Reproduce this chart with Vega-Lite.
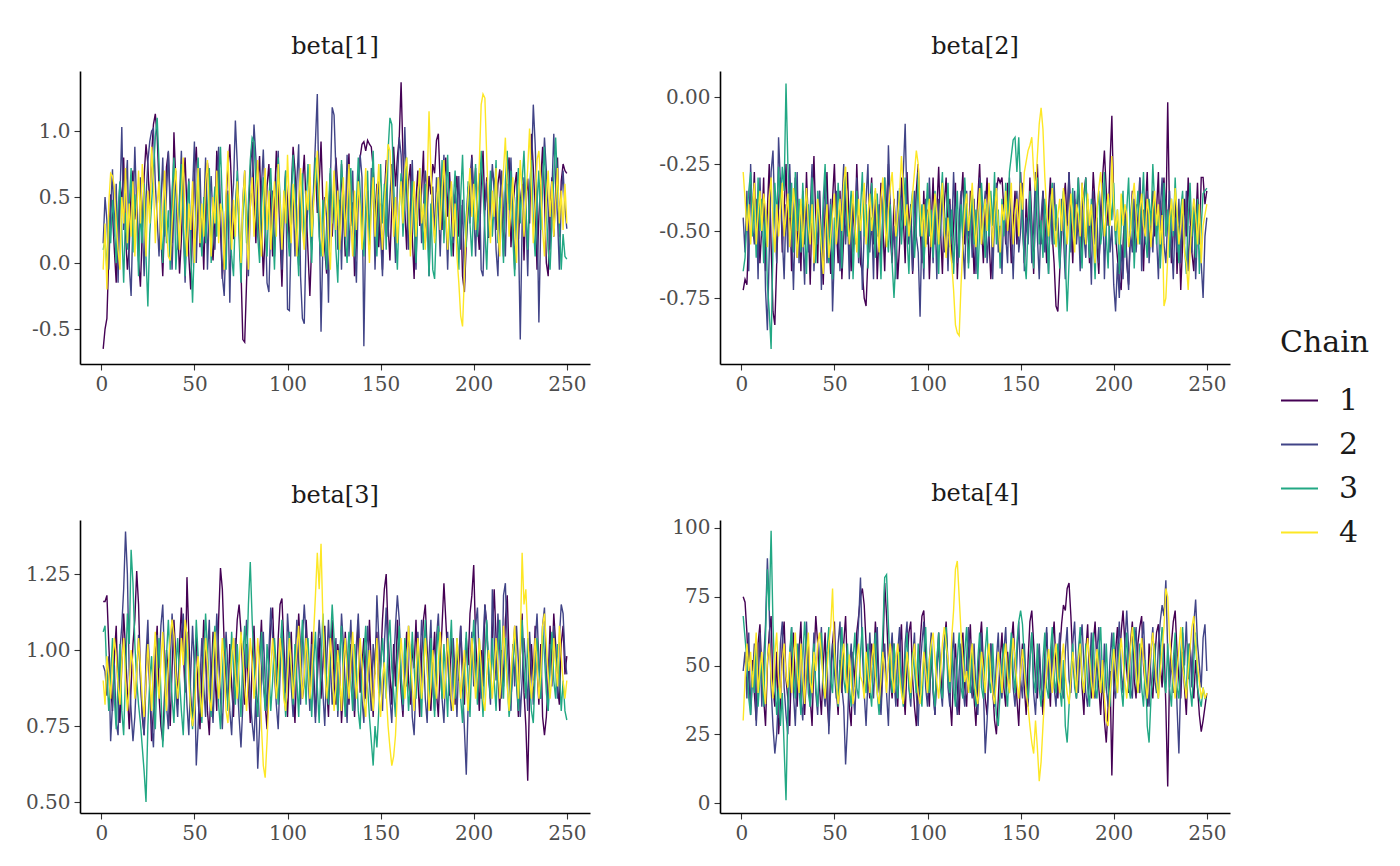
{
  "$schema": "https://vega.github.io/schema/vega-lite/v6.json",
  "description": "MCMC trace plots for beta[1] to beta[4], four chains",
  "background": "white",
  "padding": {"left": 20, "top": 35, "right": 0, "bottom": 0},
  "data": {
    "values": [
      {"p": "beta[1]", "c": "1", "v": [-0.65,-0.50,-0.42,0.05,0.52,0.38,0.10,-0.15,0.28,0.61,0.45,0.80,0.22,-0.05,0.12,0.55,0.70,0.33,0.48,0.02,-0.18,0.25,0.66,0.90,0.75,0.41,0.82,1.05,1.13,0.96,0.58,0.20,-0.10,0.35,0.73,0.84,0.47,0.15,0.99,0.62,0.30,-0.08,0.18,0.57,0.80,0.40,0.05,-0.20,0.26,0.68,0.88,0.52,0.12,0.35,-0.05,0.44,0.76,0.60,0.20,0.02,0.31,0.85,0.66,0.25,-0.12,0.10,0.48,0.72,0.90,0.55,0.18,0.40,0.64,0.28,-0.05,-0.58,-0.60,-0.15,0.36,0.70,0.92,0.50,0.15,0.62,0.81,0.30,-0.10,0.22,0.58,0.75,0.40,0.05,0.46,0.85,0.60,0.20,-0.18,0.30,0.66,0.48,0.12,0.55,0.88,0.70,0.35,-0.02,0.26,0.60,0.82,0.42,0.08,-0.25,0.15,0.52,0.74,0.38,0.60,0.92,0.45,0.10,-0.08,0.30,0.68,0.20,0.50,0.80,0.56,0.22,0.75,0.40,0.05,0.58,0.83,0.28,0.46,-0.10,0.15,0.62,0.80,0.90,0.92,0.85,0.93,0.90,0.88,0.72,0.35,0.60,0.12,0.45,-0.05,0.50,0.78,0.30,0.02,0.42,0.88,0.58,0.80,0.95,1.37,0.82,0.40,0.10,0.62,0.75,0.20,-0.12,0.48,0.70,0.28,0.55,0.85,0.15,0.40,0.66,0.52,0.75,0.68,0.93,0.98,0.60,0.25,0.62,0.80,0.35,0.69,0.40,0.05,0.52,0.66,0.20,0.44,-0.10,-0.22,0.15,0.40,0.61,0.82,0.50,0.72,0.30,0.10,0.58,0.85,0.40,0.65,0.19,0.55,0.70,0.62,0.25,0.60,0.71,0.44,0.05,0.53,0.67,0.80,0.12,0.40,0.58,0.69,0.18,0.46,0.60,0.02,0.51,0.64,0.30,0.98,0.72,0.41,-0.05,0.35,0.62,0.88,0.50,0.00,-0.10,0.40,0.65,0.20,0.55,0.80,0.20,0.62,0.75,0.70,0.68]},
      {"p": "beta[1]", "c": "2", "v": [0.15,0.50,0.32,-0.05,0.40,0.71,0.20,0.60,-0.15,0.48,1.03,0.25,0.55,0.78,-0.02,-0.25,0.35,0.88,0.42,0.05,0.65,0.30,-0.10,0.49,0.77,0.92,1.00,1.02,0.60,0.33,0.05,0.45,0.80,0.20,0.52,0.85,0.37,-0.05,0.43,0.70,0.10,0.50,0.85,0.30,-0.15,0.41,0.64,0.10,0.55,0.92,0.00,0.47,0.72,0.15,0.36,0.80,-0.05,0.40,0.66,0.30,0.10,0.52,0.88,0.43,-0.10,-0.25,0.22,0.55,-0.30,0.40,0.60,1.08,0.75,0.35,-0.05,0.48,0.70,0.28,-0.10,0.42,0.63,1.05,0.80,0.45,0.10,0.58,0.86,0.40,-0.15,-0.22,0.30,0.55,0.05,0.40,0.85,0.25,-0.05,0.44,0.70,-0.35,-0.36,0.28,0.50,0.05,0.62,0.90,-0.10,-0.42,-0.46,0.20,0.45,0.65,0.10,0.58,0.92,1.28,0.40,-0.52,0.15,0.50,0.35,-0.30,0.60,1.18,1.12,0.70,0.10,0.48,-0.05,0.55,0.30,0.82,0.05,0.42,0.70,0.15,-0.15,0.50,0.82,0.65,-0.63,0.30,0.55,0.10,0.72,0.58,-0.05,0.45,0.62,0.20,-0.10,0.40,0.68,0.20,0.50,0.75,0.38,0.00,0.60,0.95,0.82,0.45,1.03,0.55,0.10,0.42,0.78,0.30,-0.05,0.48,0.62,0.15,0.40,0.70,0.55,-0.10,0.36,0.58,0.20,0.65,0.45,0.05,0.50,0.82,0.38,-0.05,0.44,0.60,0.15,0.52,0.40,0.66,0.10,0.48,-0.15,0.35,0.58,0.30,0.80,0.42,0.05,0.50,0.68,-0.05,-0.10,0.40,0.62,0.20,0.45,0.75,0.55,0.10,-0.10,0.48,0.70,0.38,0.05,0.60,0.45,0.80,0.35,-0.05,0.50,0.25,-0.58,0.30,0.65,0.40,-0.10,0.55,0.70,1.20,0.90,0.45,-0.45,0.30,0.62,0.95,0.70,0.40,0.10,0.55,0.98,0.60,0.35,-0.05,0.48,0.70,0.42,0.26]},
      {"p": "beta[1]", "c": "3", "v": [0.10,0.18,-0.05,0.35,0.15,0.48,0.30,0.00,0.40,0.62,0.25,-0.15,0.38,0.10,0.45,0.72,0.08,0.52,0.33,-0.10,0.40,0.15,0.60,0.05,-0.33,0.22,0.45,0.70,0.95,1.10,0.75,0.30,0.00,0.48,0.15,0.40,-0.05,0.55,0.80,-0.05,0.20,0.44,0.75,0.30,-0.10,0.38,0.62,0.10,-0.30,0.15,0.42,0.80,0.30,0.05,0.50,0.15,0.40,0.72,0.00,0.35,0.58,0.20,0.62,0.88,0.45,0.10,-0.05,0.52,0.30,0.05,-0.10,0.40,0.70,0.18,-0.15,0.35,0.60,0.15,0.45,0.78,0.95,0.92,0.60,0.20,0.00,0.42,0.65,0.25,0.05,0.48,0.72,0.30,-0.05,0.45,0.80,0.50,0.15,0.40,0.70,0.25,0.05,0.45,0.82,0.55,0.20,-0.10,0.40,0.68,0.15,0.45,0.75,0.30,0.00,0.50,0.80,0.60,0.20,0.05,0.48,0.22,-0.05,0.42,0.72,0.30,0.55,0.10,-0.15,0.40,0.78,0.45,0.20,0.00,0.48,0.72,0.30,0.05,0.45,0.80,0.55,0.25,0.05,0.42,0.70,0.15,0.50,0.85,0.35,0.05,0.45,0.75,0.30,0.60,0.10,0.85,1.10,1.05,0.60,0.25,-0.05,0.42,0.68,0.20,0.48,0.80,0.35,0.10,0.62,0.30,0.00,0.45,0.72,0.35,0.10,0.60,0.30,-0.10,0.45,-0.05,-0.12,0.30,0.65,0.35,0.78,0.15,0.48,0.82,0.30,0.05,0.45,0.70,0.30,-0.05,0.50,0.82,0.35,0.12,0.62,0.30,0.05,0.45,0.75,0.20,0.48,0.85,0.55,0.25,-0.05,0.42,0.70,0.20,0.45,0.78,0.15,0.50,0.35,0.00,0.62,0.85,0.40,0.70,0.20,-0.10,0.48,0.72,0.30,0.62,0.85,0.42,0.10,0.55,0.78,0.30,0.05,0.45,0.70,0.25,0.60,0.88,0.40,0.10,-0.05,0.30,0.65,0.95,0.60,0.30,-0.05,0.22,0.05,0.03]},
      {"p": "beta[1]", "c": "4", "v": [-0.05,0.30,-0.20,0.45,0.68,0.66,0.58,0.30,0.10,-0.05,0.50,0.30,0.72,0.15,0.45,0.20,0.62,0.05,0.40,0.70,0.30,0.75,0.48,0.05,0.55,0.30,0.88,0.60,0.15,0.45,0.62,0.10,0.40,0.70,0.25,0.05,0.02,0.30,0.55,0.72,0.40,0.10,0.52,0.80,0.30,0.05,0.45,0.25,0.62,0.00,0.38,0.72,0.15,0.45,0.20,0.60,0.78,0.35,0.05,0.50,0.30,0.70,0.15,0.45,0.38,-0.05,0.52,0.85,0.40,0.10,0.48,0.20,0.62,0.40,0.00,0.45,0.70,0.25,-0.05,0.42,0.65,0.20,0.48,0.78,0.30,0.05,0.42,0.72,0.25,0.55,0.10,0.40,0.62,0.20,0.75,0.45,0.10,0.55,0.30,0.82,0.45,0.15,0.60,0.40,0.05,0.48,0.72,0.25,0.10,0.55,0.40,0.75,0.20,0.45,0.65,0.85,0.52,0.25,0.05,0.40,0.62,0.20,-0.05,0.42,0.70,0.25,0.55,0.10,0.40,0.65,0.20,0.45,0.75,0.30,0.05,0.55,0.25,0.62,0.42,0.10,0.45,0.72,0.30,0.00,0.40,0.65,0.20,0.50,0.75,0.35,0.10,0.45,0.65,0.90,0.85,0.55,0.20,0.50,0.15,0.42,0.62,0.30,0.70,0.80,0.45,0.05,0.40,0.62,0.20,0.50,0.72,0.30,0.45,0.10,0.60,1.15,0.70,0.35,0.15,0.45,0.65,0.25,0.55,0.78,0.40,0.10,0.40,0.62,0.20,0.45,0.05,-0.15,-0.40,-0.48,-0.10,0.30,0.50,0.72,0.35,0.60,0.25,0.50,0.75,1.20,1.28,1.25,0.80,0.40,0.15,0.55,0.35,0.72,0.25,0.05,0.48,0.70,0.95,0.55,0.20,0.42,0.65,0.25,0.00,0.45,0.78,0.52,0.20,0.48,0.72,1.02,0.55,0.15,0.42,0.78,0.85,0.60,0.25,0.05,0.48,0.70,0.35,0.62,0.20,0.45,0.72,0.30,0.55,0.25,0.60,0.30]},
      {"p": "beta[2]", "c": "1", "v": [-0.72,-0.68,-0.70,-0.50,-0.32,-0.45,-0.28,-0.55,-0.40,-0.62,-0.48,-0.30,-0.65,-0.42,-0.25,-0.55,-0.80,-0.85,-0.62,-0.40,-0.30,-0.58,-0.42,-0.25,-0.52,-0.38,-0.65,-0.48,-0.30,-0.60,-0.40,-0.65,-0.35,-0.55,-0.28,-0.48,-0.70,-0.40,-0.22,-0.46,-0.62,-0.35,-0.55,-0.70,-0.42,-0.28,-0.52,-0.66,-0.38,-0.25,-0.48,-0.62,-0.35,-0.68,-0.52,-0.40,-0.28,-0.50,-0.65,-0.38,-0.55,-0.25,-0.45,-0.62,-0.65,-0.75,-0.78,-0.60,-0.42,-0.30,-0.55,-0.40,-0.68,-0.50,-0.32,-0.48,-0.65,-0.40,-0.25,-0.52,-0.62,-0.38,-0.50,-0.68,-0.55,-0.30,-0.45,-0.62,-0.28,-0.50,-0.40,-0.66,-0.52,-0.35,-0.25,-0.48,-0.62,-0.35,-0.55,-0.42,-0.68,-0.48,-0.30,-0.55,-0.42,-0.26,-0.50,-0.66,-0.40,-0.30,-0.52,-0.38,-0.62,-0.48,-0.32,-0.68,-0.50,-0.40,-0.28,-0.55,-0.45,-0.62,-0.35,-0.48,-0.66,-0.52,-0.38,-0.25,-0.48,-0.62,-0.42,-0.30,-0.52,-0.68,-0.55,-0.40,-0.35,-0.30,-0.32,-0.30,-0.42,-0.55,-0.32,-0.46,-0.62,-0.48,-0.35,-0.55,-0.42,-0.28,-0.48,-0.62,-0.38,-0.52,-0.30,-0.46,-0.66,-0.40,-0.25,-0.48,-0.55,-0.35,-0.46,-0.62,-0.42,-0.30,-0.52,-0.62,-0.78,-0.80,-0.65,-0.50,-0.40,-0.32,-0.48,-0.28,-0.44,-0.62,-0.38,-0.52,-0.30,-0.46,-0.58,-0.36,-0.30,-0.45,-0.62,-0.48,-0.28,-0.40,-0.55,-0.66,-0.42,-0.30,-0.20,-0.35,-0.48,-0.25,-0.07,-0.40,-0.52,-0.60,-0.68,-0.72,-0.55,-0.42,-0.62,-0.70,-0.48,-0.35,-0.58,-0.40,-0.52,-0.30,-0.46,-0.65,-0.42,-0.28,-0.55,-0.48,-0.35,-0.52,-0.42,-0.28,-0.60,-0.40,-0.30,-0.48,-0.02,-0.45,-0.62,-0.50,-0.35,-0.66,-0.48,-0.72,-0.55,-0.38,-0.52,-0.30,-0.45,-0.58,-0.65,-0.48,-0.32,-0.55,-0.30,-0.30,-0.40,-0.35]},
      {"p": "beta[2]", "c": "2", "v": [-0.45,-0.58,-0.35,-0.65,-0.25,-0.48,-0.55,-0.38,-0.68,-0.30,-0.52,-0.38,-0.72,-0.87,-0.58,-0.28,-0.20,-0.45,-0.62,-0.15,-0.32,-0.52,-0.68,-0.40,-0.58,-0.25,-0.48,-0.72,-0.45,-0.28,-0.62,-0.40,-0.52,-0.70,-0.35,-0.58,-0.42,-0.25,-0.65,-0.48,-0.55,-0.35,-0.72,-0.45,-0.30,-0.62,-0.50,-0.38,-0.80,-0.58,-0.35,-0.48,-0.65,-0.40,-0.25,-0.55,-0.42,-0.68,-0.38,-0.58,-0.48,-0.30,-0.62,-0.45,-0.72,-0.50,-0.38,-0.25,-0.58,-0.45,-0.68,-0.35,-0.52,-0.40,-0.62,-0.45,-0.30,-0.55,-0.18,-0.40,-0.58,-0.48,-0.68,-0.35,-0.52,-0.45,-0.28,-0.10,-0.42,-0.55,-0.45,-0.65,-0.35,-0.52,-0.58,-0.82,-0.48,-0.68,-0.38,-0.55,-0.30,-0.48,-0.62,-0.42,-0.68,-0.38,-0.52,-0.32,-0.58,-0.45,-0.65,-0.40,-0.52,-0.28,-0.48,-0.62,-0.45,-0.35,-0.55,-0.68,-0.35,-0.52,-0.42,-0.60,-0.38,-0.66,-0.48,-0.30,-0.55,-0.45,-0.35,-0.62,-0.50,-0.38,-0.68,-0.45,-0.32,-0.58,-0.48,-0.66,-0.40,-0.52,-0.62,-0.30,-0.48,-0.68,-0.45,-0.35,-0.58,-0.50,-0.32,-0.65,-0.45,-0.55,-0.38,-0.62,-0.48,-0.28,-0.52,-0.68,-0.45,-0.35,-0.58,-0.48,-0.66,-0.38,-0.55,-0.32,-0.50,-0.45,-0.62,-0.38,-0.52,-0.68,-0.45,-0.28,-0.58,-0.48,-0.35,-0.55,-0.45,-0.65,-0.32,-0.52,-0.60,-0.38,-0.48,-0.70,-0.35,-0.55,-0.45,-0.62,-0.50,-0.32,-0.68,-0.45,-0.38,-0.58,-0.48,-0.70,-0.80,-0.62,-0.75,-0.55,-0.68,-0.45,-0.60,-0.72,-0.50,-0.58,-0.38,-0.58,-0.48,-0.30,-0.65,-0.42,-0.55,-0.35,-0.62,-0.48,-0.58,-0.38,-0.52,-0.68,-0.42,-0.30,-0.55,-0.62,-0.45,-0.35,-0.52,-0.68,-0.45,-0.58,-0.38,-0.62,-0.42,-0.55,-0.35,-0.65,-0.48,-0.58,-0.38,-0.68,-0.50,-0.42,-0.62,-0.75,-0.52,-0.45]},
      {"p": "beta[2]", "c": "3", "v": [-0.65,-0.60,-0.45,-0.35,-0.28,-0.52,-0.38,-0.60,-0.30,-0.50,-0.38,-0.62,-0.42,-0.70,-0.80,-0.94,-0.55,-0.32,-0.45,-0.26,-0.42,-0.26,-0.35,0.05,-0.25,-0.45,-0.32,-0.58,-0.28,-0.50,-0.38,-0.58,-0.32,-0.48,-0.66,-0.40,-0.52,-0.30,-0.50,-0.62,-0.35,-0.46,-0.58,-0.38,-0.25,-0.50,-0.62,-0.40,-0.68,-0.45,-0.52,-0.32,-0.46,-0.64,-0.40,-0.28,-0.52,-0.45,-0.35,-0.68,-0.48,-0.35,-0.60,-0.42,-0.28,-0.52,-0.40,-0.64,-0.50,-0.32,-0.45,-0.60,-0.36,-0.52,-0.68,-0.42,-0.30,-0.50,-0.58,-0.40,-0.62,-0.75,-0.60,-0.45,-0.34,-0.55,-0.42,-0.30,-0.52,-0.66,-0.42,-0.35,-0.60,-0.48,-0.28,-0.52,-0.40,-0.64,-0.46,-0.32,-0.52,-0.42,-0.60,-0.35,-0.48,-0.66,-0.40,-0.28,-0.52,-0.45,-0.32,-0.56,-0.42,-0.66,-0.48,-0.35,-0.60,-0.40,-0.52,-0.30,-0.45,-0.64,-0.48,-0.35,-0.55,-0.42,-0.68,-0.50,-0.32,-0.46,-0.60,-0.40,-0.52,-0.35,-0.48,-0.28,-0.55,-0.42,-0.64,-0.38,-0.52,-0.32,-0.46,-0.28,-0.22,-0.16,-0.15,-0.28,-0.15,-0.35,-0.48,-0.60,-0.68,-0.48,-0.35,-0.52,-0.64,-0.42,-0.30,-0.55,-0.46,-0.60,-0.38,-0.48,-0.66,-0.42,-0.32,-0.55,-0.40,-0.52,-0.64,-0.42,-0.35,-0.60,-0.80,-0.62,-0.45,-0.34,-0.55,-0.42,-0.30,-0.52,-0.64,-0.40,-0.30,-0.48,-0.60,-0.38,-0.52,-0.68,-0.42,-0.35,-0.55,-0.48,-0.28,-0.52,-0.64,-0.38,-0.46,-0.32,-0.55,-0.42,-0.66,-0.48,-0.35,-0.60,-0.42,-0.30,-0.52,-0.38,-0.64,-0.46,-0.35,-0.55,-0.42,-0.28,-0.52,-0.60,-0.38,-0.48,-0.25,-0.40,-0.55,-0.42,-0.64,-0.48,-0.32,-0.52,-0.42,-0.60,-0.38,-0.52,-0.30,-0.48,-0.62,-0.42,-0.35,-0.55,-0.66,-0.46,-0.32,-0.52,-0.42,-0.60,-0.38,-0.66,-0.48,-0.36,-0.35,-0.34]},
      {"p": "beta[2]", "c": "4", "v": [-0.28,-0.38,-0.50,-0.40,-0.55,-0.42,-0.32,-0.55,-0.44,-0.35,-0.50,-0.36,-0.42,-0.56,-0.38,-0.30,-0.48,-0.58,-0.40,-0.52,-0.42,-0.32,-0.52,-0.44,-0.36,-0.56,-0.45,-0.34,-0.42,-0.60,-0.50,-0.38,-0.56,-0.44,-0.34,-0.48,-0.55,-0.40,-0.62,-0.48,-0.38,-0.46,-0.56,-0.66,-0.50,-0.40,-0.60,-0.52,-0.44,-0.36,-0.55,-0.46,-0.38,-0.50,-0.32,-0.26,-0.42,-0.55,-0.45,-0.35,-0.48,-0.58,-0.38,-0.50,-0.42,-0.32,-0.55,-0.44,-0.36,-0.50,-0.42,-0.34,-0.48,-0.58,-0.38,-0.30,-0.46,-0.56,-0.42,-0.34,-0.28,-0.40,-0.52,-0.44,-0.36,-0.22,-0.34,-0.48,-0.40,-0.52,-0.44,-0.36,-0.28,-0.20,-0.25,-0.42,-0.52,-0.40,-0.56,-0.45,-0.38,-0.56,-0.46,-0.36,-0.44,-0.55,-0.40,-0.32,-0.50,-0.60,-0.45,-0.55,-0.62,-0.72,-0.85,-0.88,-0.89,-0.70,-0.55,-0.42,-0.36,-0.50,-0.42,-0.32,-0.46,-0.56,-0.44,-0.34,-0.55,-0.45,-0.38,-0.50,-0.32,-0.42,-0.56,-0.44,-0.34,-0.48,-0.58,-0.40,-0.46,-0.35,-0.50,-0.42,-0.32,-0.55,-0.44,-0.38,-0.52,-0.32,-0.42,-0.28,-0.24,-0.20,-0.18,-0.15,-0.28,-0.35,-0.22,-0.10,-0.04,-0.12,-0.30,-0.42,-0.52,-0.42,-0.34,-0.48,-0.56,-0.44,-0.38,-0.50,-0.34,-0.42,-0.55,-0.45,-0.36,-0.48,-0.58,-0.40,-0.44,-0.52,-0.32,-0.42,-0.55,-0.36,-0.48,-0.40,-0.52,-0.62,-0.42,-0.34,-0.28,-0.40,-0.52,-0.44,-0.36,-0.48,-0.22,-0.40,-0.50,-0.42,-0.55,-0.36,-0.48,-0.40,-0.44,-0.56,-0.50,-0.38,-0.32,-0.44,-0.55,-0.42,-0.36,-0.48,-0.52,-0.38,-0.44,-0.56,-0.42,-0.35,-0.48,-0.40,-0.55,-0.44,-0.78,-0.75,-0.60,-0.45,-0.38,-0.50,-0.34,-0.42,-0.55,-0.48,-0.38,-0.58,-0.62,-0.72,-0.58,-0.46,-0.38,-0.44,-0.55,-0.40,-0.62,-0.48,-0.44,-0.40]},
      {"p": "beta[3]", "c": "1", "v": [1.16,1.16,1.18,1.02,0.88,0.80,0.98,1.08,0.85,0.76,0.95,1.12,1.00,0.86,0.74,0.88,1.02,1.10,1.26,1.15,0.92,0.78,0.72,0.90,1.05,0.88,0.70,0.80,0.98,1.08,0.85,0.75,0.70,0.86,1.00,0.92,0.75,0.94,1.10,0.98,0.82,1.02,1.14,1.00,0.86,1.24,1.05,0.85,0.75,0.95,1.05,0.84,0.74,0.92,1.10,0.98,0.80,0.72,0.90,1.06,0.92,0.80,1.10,1.27,1.20,1.02,0.90,0.82,1.02,0.88,0.78,0.98,1.10,1.15,1.06,0.92,0.82,1.02,0.88,0.76,0.95,1.08,0.88,0.78,0.98,1.10,0.90,0.82,0.74,0.95,1.08,1.14,0.96,0.85,1.04,1.15,1.17,1.02,0.88,0.78,0.95,1.06,0.86,0.76,0.96,1.12,1.00,0.84,0.90,1.10,0.98,0.84,1.06,0.94,0.78,0.90,1.04,0.84,0.95,1.08,0.88,0.78,0.98,1.10,0.90,0.82,1.02,0.94,0.76,0.88,1.06,0.94,0.82,1.02,0.90,0.78,0.98,1.10,0.86,0.95,1.04,0.84,0.90,1.10,0.94,0.78,0.98,1.06,0.86,0.95,1.10,1.20,1.25,1.06,0.92,0.82,1.02,0.88,1.10,0.98,0.86,0.78,0.95,1.06,0.90,0.82,1.02,0.94,1.10,0.90,0.78,0.98,1.10,1.15,1.00,0.88,0.80,0.95,1.06,0.86,0.78,0.95,1.08,1.22,1.10,0.98,0.85,1.04,0.94,0.82,1.02,0.90,1.08,0.94,0.82,1.04,0.95,1.12,1.18,1.28,1.04,0.92,0.80,1.00,0.88,1.15,1.08,0.92,0.84,1.04,1.20,1.04,0.92,0.80,1.00,0.88,1.10,1.18,0.98,0.84,0.94,1.08,0.90,0.78,0.98,1.12,0.86,0.75,0.57,0.85,1.02,0.90,1.08,0.94,0.82,1.02,0.78,0.72,0.78,0.90,1.08,0.94,1.12,1.02,0.88,0.82,1.02,1.08,0.92,0.98]},
      {"p": "beta[3]", "c": "2", "v": [0.95,0.93,0.85,0.98,0.70,0.82,0.95,0.76,0.72,1.00,1.08,1.20,1.39,1.25,0.92,0.80,0.70,0.78,0.92,1.05,0.90,0.80,0.72,0.98,1.10,0.88,0.76,0.68,0.88,1.05,0.94,1.08,1.15,0.96,0.82,0.74,0.95,1.12,1.00,0.86,0.78,0.95,1.05,1.12,0.96,0.82,0.72,0.92,1.08,0.94,0.62,0.75,0.90,1.04,0.88,0.78,0.98,1.10,0.86,0.76,0.95,1.12,1.00,0.84,0.74,0.92,1.06,0.94,0.80,0.72,0.90,1.04,0.90,0.78,0.68,0.82,0.98,1.10,0.96,0.84,0.76,0.70,0.85,0.61,0.75,0.92,1.06,0.90,0.80,1.00,1.14,1.04,0.92,0.82,0.74,0.92,1.08,0.96,0.86,1.12,1.02,0.88,0.78,0.95,1.10,0.96,0.82,1.04,1.15,1.04,0.92,0.80,1.02,0.88,0.76,0.98,1.10,1.00,0.86,0.75,0.95,1.10,0.96,0.82,0.90,1.04,0.78,0.94,1.12,1.02,0.88,0.76,0.98,1.10,0.92,0.80,1.02,1.12,0.94,0.84,0.76,0.98,1.08,0.90,0.80,1.02,0.92,1.18,1.04,0.90,0.80,1.02,1.14,0.96,0.84,0.76,0.94,1.08,1.18,1.10,0.92,0.80,1.02,0.88,1.08,0.96,0.78,0.72,0.90,1.06,0.92,1.10,1.00,0.84,0.76,0.98,1.10,0.88,0.80,1.04,1.12,0.96,0.84,0.76,0.94,1.06,0.88,0.80,1.04,0.92,0.78,0.98,1.08,0.88,0.74,0.59,0.82,0.96,1.06,0.88,1.08,1.14,0.96,0.84,1.02,1.15,1.08,0.92,0.82,1.20,1.04,0.90,1.12,1.00,0.84,1.18,1.22,1.02,0.90,0.80,1.02,0.88,1.08,0.96,0.78,0.90,1.04,0.94,0.80,1.06,0.94,0.82,1.02,1.12,0.96,0.84,1.08,1.14,0.92,0.80,1.02,0.88,1.08,0.96,0.84,1.04,1.15,1.12,0.98,0.92]},
      {"p": "beta[3]", "c": "3", "v": [1.06,1.08,0.92,0.80,0.90,1.04,0.84,0.74,0.90,1.02,0.80,0.72,0.92,1.12,1.02,1.33,1.22,1.02,0.90,0.82,0.76,0.68,0.60,0.50,0.75,0.90,0.98,0.82,0.74,0.94,1.04,0.86,0.68,0.80,0.98,1.10,0.96,0.84,0.76,0.94,1.04,0.90,0.80,0.72,0.90,1.06,0.94,0.82,0.74,0.92,1.10,0.98,0.86,0.76,0.96,1.12,1.00,0.88,0.78,1.00,1.08,0.94,0.82,0.74,0.92,1.04,0.96,0.80,0.88,1.06,0.94,0.82,1.02,0.90,0.78,0.98,1.08,0.94,1.15,1.29,1.10,0.96,0.86,0.78,0.95,1.06,0.90,0.80,1.02,0.94,0.80,0.90,1.04,0.94,0.82,0.98,1.10,0.90,0.78,0.95,1.06,0.94,0.82,1.02,0.90,0.78,0.98,1.10,0.94,0.82,1.04,0.90,0.78,0.95,1.06,0.88,0.76,0.95,1.12,1.00,0.90,0.82,1.02,1.15,1.04,0.92,0.80,0.98,1.08,0.90,0.78,0.95,1.06,0.90,0.80,1.02,0.94,0.80,0.74,0.92,0.98,1.08,0.88,0.78,0.70,0.62,0.75,0.68,0.80,0.94,1.04,0.94,0.84,1.02,1.10,0.94,0.86,0.78,0.98,1.08,0.90,0.82,1.04,0.94,0.80,0.90,1.06,0.94,0.84,1.02,0.90,0.78,0.98,1.10,0.94,0.82,1.04,0.90,0.78,0.98,1.08,0.94,0.84,1.02,0.90,0.78,0.98,1.10,0.90,0.84,1.04,0.94,0.84,0.76,0.95,1.06,0.90,0.78,0.98,1.10,0.94,0.82,1.04,0.90,0.78,0.98,1.10,0.94,0.84,1.04,0.90,0.80,0.98,1.10,0.94,0.84,1.04,0.90,0.78,0.85,0.95,1.06,0.90,0.80,0.98,1.10,0.94,0.84,1.04,0.90,0.80,0.76,0.92,1.04,0.94,0.84,1.08,0.98,0.86,0.80,0.95,1.06,0.90,0.84,1.02,0.94,0.80,0.90,0.80,0.77]},
      {"p": "beta[3]", "c": "4", "v": [0.90,0.82,0.98,0.92,0.84,0.96,1.04,0.98,0.88,0.82,0.96,1.04,0.90,0.80,0.88,1.00,0.95,0.84,0.92,1.04,0.95,0.84,0.78,0.90,1.02,0.92,0.80,0.96,1.06,0.92,0.84,0.96,1.06,0.90,0.80,0.95,1.04,1.10,1.05,0.92,0.84,0.92,1.04,0.95,1.10,1.05,0.90,0.80,0.75,0.80,0.92,0.98,0.86,0.78,0.92,1.04,0.96,0.84,0.80,0.95,1.06,0.95,0.84,0.92,1.04,0.95,0.80,0.76,0.88,0.98,1.04,0.92,0.84,0.96,1.06,0.98,0.88,0.80,0.92,1.04,0.96,0.84,0.92,1.04,0.95,0.75,0.62,0.58,0.70,0.85,0.94,1.04,0.95,0.84,0.92,1.04,0.96,0.84,0.80,0.92,1.04,0.95,0.84,0.92,1.00,1.08,0.95,0.84,0.92,1.04,0.96,0.84,0.92,1.05,1.18,1.32,1.20,1.35,1.10,0.94,0.84,0.92,1.04,0.95,0.80,0.88,1.00,0.92,0.80,0.95,1.04,0.92,0.84,0.96,1.06,0.95,0.84,0.92,1.04,0.95,0.84,0.78,0.92,1.00,0.88,0.80,0.92,1.04,0.86,0.78,0.90,0.96,0.86,0.75,0.68,0.62,0.65,0.72,0.86,0.94,1.04,0.95,0.84,0.92,1.08,0.98,0.88,0.80,0.92,1.04,0.95,0.84,0.92,1.04,0.95,0.80,0.88,1.00,0.92,0.84,0.96,1.06,0.95,0.84,0.92,1.04,0.95,0.84,0.80,0.92,1.04,0.95,0.84,0.92,1.00,0.88,0.80,0.92,1.04,0.95,0.84,0.92,1.04,0.95,0.84,0.80,0.92,1.00,0.95,0.84,0.92,1.04,0.95,0.84,0.92,1.08,0.98,0.88,0.80,0.92,1.00,1.08,0.95,0.84,1.02,1.32,1.15,1.20,1.05,0.92,0.84,0.92,1.04,0.95,0.84,0.92,1.08,1.12,1.02,0.92,0.84,0.92,1.04,0.95,0.88,1.08,0.98,0.90,0.84,0.90]},
      {"p": "beta[4]", "c": "1", "v": [75,73,62,45,35,52,40,30,58,65,48,38,28,50,62,68,42,35,55,25,35,58,66,45,38,28,52,62,42,35,55,66,42,32,48,58,38,28,52,68,58,42,32,50,62,38,28,48,58,66,42,32,52,40,58,68,48,35,28,55,42,62,68,75,78,72,58,45,38,58,50,66,55,42,35,52,80,68,52,45,38,58,45,35,55,65,42,32,50,62,66,45,35,28,42,58,68,70,55,45,35,55,42,32,50,62,48,38,58,66,50,38,28,48,58,42,32,52,62,42,35,55,65,45,38,28,45,58,66,50,38,32,48,58,42,30,25,38,52,62,42,35,55,45,58,66,50,38,28,48,58,42,32,52,66,70,58,45,38,55,42,32,52,62,45,35,58,66,50,38,55,65,72,70,78,80,68,52,45,38,52,62,42,32,55,65,45,38,58,66,50,42,32,48,30,22,35,48,10,40,55,64,52,62,70,58,48,40,58,66,45,38,58,64,68,50,42,35,58,45,38,52,62,65,50,42,58,35,6,48,58,66,70,55,45,38,55,42,32,52,58,45,38,52,42,32,26,30,35,40]},
      {"p": "beta[4]", "c": "2", "v": [48,55,38,62,32,45,58,28,42,62,35,52,65,89,70,42,28,18,25,40,58,66,42,32,25,52,64,40,28,48,58,38,30,50,66,48,35,45,62,40,32,52,64,42,35,55,25,42,58,48,38,58,66,42,35,14,28,48,58,40,32,52,66,82,55,40,28,45,62,48,38,55,64,42,32,48,58,40,28,52,62,45,35,55,64,45,38,58,66,42,35,52,62,40,28,48,58,66,42,35,52,62,40,32,48,58,42,35,55,64,42,35,52,62,40,32,48,58,42,35,52,64,45,38,58,40,32,48,62,42,18,30,45,58,40,35,52,62,42,38,55,64,45,40,58,42,35,52,66,45,38,58,42,35,52,62,40,32,48,58,42,38,55,64,45,40,58,42,35,52,62,42,38,55,64,45,40,58,66,48,40,58,65,50,40,35,48,62,42,38,55,64,45,40,58,42,35,52,62,42,38,55,66,48,40,58,70,56,42,38,55,64,45,40,58,66,48,42,35,55,64,45,40,58,66,72,68,81,55,42,52,40,58,35,18,45,62,50,66,45,58,42,65,74,58,50,42,60,65,48]},
      {"p": "beta[4]", "c": "3", "v": [68,60,52,38,32,48,40,58,35,45,52,35,60,85,70,99,65,45,32,42,28,40,20,1,35,55,64,45,38,58,42,32,52,66,55,40,35,48,58,42,35,52,62,42,38,55,64,45,40,58,42,35,52,64,45,40,58,42,35,52,62,42,38,55,64,45,40,58,42,35,52,62,40,32,48,62,82,83,65,48,40,58,45,38,55,42,35,52,62,42,38,55,48,40,58,42,35,52,64,45,40,58,42,35,52,62,42,38,55,64,45,40,58,42,35,52,62,42,38,55,64,45,40,58,42,35,52,62,42,38,55,64,45,40,58,42,32,28,40,52,58,42,35,52,62,48,40,58,66,70,65,52,42,38,52,62,45,40,58,42,35,52,62,42,38,55,64,45,40,58,42,35,52,28,22,35,48,58,42,38,55,64,45,40,58,42,35,52,62,42,38,55,64,45,40,58,42,35,52,62,45,40,58,42,35,52,62,42,38,55,64,45,40,58,42,35,52,28,22,38,48,58,42,38,55,64,45,40,58,42,35,52,62,42,38,55,64,45,40,58,42,35,52,62,42,38,35,42,38,38]},
      {"p": "beta[4]", "c": "4", "v": [30,45,58,48,55,42,52,62,40,48,55,42,36,52,58,46,38,54,62,45,38,52,58,46,42,55,40,52,62,48,40,58,46,36,52,62,44,40,55,48,58,62,54,44,38,48,58,64,78,55,44,36,42,52,58,46,40,54,44,36,42,52,58,46,44,38,55,48,40,52,58,46,40,36,45,55,48,40,52,58,46,40,52,58,46,40,36,45,55,48,40,52,58,46,40,36,45,55,48,40,52,58,62,52,44,38,48,58,64,58,52,44,60,70,85,88,75,62,52,44,48,40,52,58,46,40,36,45,55,48,40,52,58,46,40,36,45,55,48,40,52,58,46,40,52,60,52,44,38,48,56,48,40,35,28,22,18,30,20,8,15,28,40,48,56,48,40,52,58,46,40,52,58,46,40,36,45,55,48,40,52,58,46,40,52,60,52,44,38,48,56,48,40,52,38,30,28,40,48,56,48,40,52,60,52,44,38,48,56,64,56,48,40,52,60,52,44,38,48,56,62,52,44,38,48,56,64,78,75,60,52,44,38,48,56,64,50,44,38,48,56,64,68,58,50,44,38,42,38,40]}
    ]
  },
  "transform": [
    {"flatten": ["v"]},
    {"window": [{"op": "row_number", "as": "i"}], "groupby": ["p", "c"]}
  ],
  "columns": 2,
  "spacing": {"row": 82, "column": 68},
  "concat": [
    {
      "title": "beta[1]",
      "width": 510,
      "height": 293,
      "transform": [{"filter": {"field": "p", "equal": "beta[1]"}}],
      "mark": {"type": "line", "strokeWidth": 1.4, "clip": true},
      "encoding": {
        "x": {"field": "i", "type": "quantitative", "title": null, "scale": {"domain": [-11.45, 262.45], "nice": false}, "axis": {"values": [0, 50, 100, 150, 200, 250]}},
        "y": {"field": "v", "type": "quantitative", "title": null, "scale": {"domain": [-0.765, 1.455], "nice": false, "zero": false}, "axis": {"values": [-0.5, 0, 0.5, 1], "format": ".1f"}},
        "color": {"field": "c", "type": "nominal", "title": "Chain", "scale": {"domain": ["1", "2", "3", "4"], "range": ["#440154", "#414487", "#22A884", "#FDE725"]}}
      }
    },
    {
      "title": "beta[2]",
      "width": 510,
      "height": 293,
      "transform": [{"filter": {"field": "p", "equal": "beta[2]"}}],
      "mark": {"type": "line", "strokeWidth": 1.4, "clip": true},
      "encoding": {
        "x": {"field": "i", "type": "quantitative", "title": null, "scale": {"domain": [-11.45, 262.45], "nice": false}, "axis": {"values": [0, 50, 100, 150, 200, 250]}},
        "y": {"field": "v", "type": "quantitative", "title": null, "scale": {"domain": [-0.996, 0.097], "nice": false, "zero": false}, "axis": {"values": [-0.75, -0.5, -0.25, 0], "format": ".2f"}},
        "color": {"field": "c", "type": "nominal", "title": "Chain", "scale": {"domain": ["1", "2", "3", "4"], "range": ["#440154", "#414487", "#22A884", "#FDE725"]}}
      }
    },
    {
      "title": "beta[3]",
      "width": 510,
      "height": 293,
      "transform": [{"filter": {"field": "p", "equal": "beta[3]"}}],
      "mark": {"type": "line", "strokeWidth": 1.4, "clip": true},
      "encoding": {
        "x": {"field": "i", "type": "quantitative", "title": null, "scale": {"domain": [-11.45, 262.45], "nice": false}, "axis": {"values": [0, 50, 100, 150, 200, 250]}},
        "y": {"field": "v", "type": "quantitative", "title": null, "scale": {"domain": [0.464, 1.428], "nice": false, "zero": false}, "axis": {"values": [0.5, 0.75, 1, 1.25], "format": ".2f"}},
        "color": {"field": "c", "type": "nominal", "title": "Chain", "scale": {"domain": ["1", "2", "3", "4"], "range": ["#440154", "#414487", "#22A884", "#FDE725"]}}
      }
    },
    {
      "title": "beta[4]",
      "width": 510,
      "height": 293,
      "transform": [{"filter": {"field": "p", "equal": "beta[4]"}}],
      "mark": {"type": "line", "strokeWidth": 1.4, "clip": true},
      "encoding": {
        "x": {"field": "i", "type": "quantitative", "title": null, "scale": {"domain": [-11.45, 262.45], "nice": false}, "axis": {"values": [0, 50, 100, 150, 200, 250]}},
        "y": {"field": "v", "type": "quantitative", "title": null, "scale": {"domain": [-3.6, 102.9], "nice": false, "zero": false}, "axis": {"values": [0, 25, 50, 75, 100], "format": "d"}},
        "color": {"field": "c", "type": "nominal", "title": "Chain", "scale": {"domain": ["1", "2", "3", "4"], "range": ["#440154", "#414487", "#22A884", "#FDE725"]}}
      }
    }
  ],
  "config": {
    "locale": {"number": {"decimal": ".", "thousands": ",", "grouping": [3], "currency": ["$", ""], "minus": "-"}},
    "view": {"stroke": null},
    "font": "DejaVu Serif",
    "title": {"font": "DejaVu Serif", "fontSize": 24, "fontWeight": "normal", "color": "#1a1a1a", "anchor": "middle", "offset": 12},
    "axis": {
      "grid": false,
      "domainColor": "#000000",
      "domainWidth": 1.6,
      "tickColor": "#333333",
      "tickWidth": 1.1,
      "tickSize": 6,
      "labelFont": "DejaVu Serif",
      "labelFontSize": 20,
      "labelColor": "#4d4d4d",
      "labelPadding": 4
    },
    "axisY": {"minExtent": 60, "maxExtent": 60},
    "axisX": {"minExtent": 35, "maxExtent": 35},
    "legend": {
      "orient": "none",
      "legendX": 1200,
      "legendY": 257,
      "titleFont": "DejaVu Serif",
      "titleFontSize": 30,
      "titleFontWeight": "normal",
      "titleColor": "#1a1a1a",
      "titlePadding": 23,
      "labelFont": "DejaVu Serif",
      "labelFontSize": 30,
      "labelColor": "#1a1a1a",
      "labelOffset": 20,
      "symbolType": "stroke",
      "symbolSize": 1369,
      "symbolStrokeWidth": 2,
      "rowPadding": 9
    }
  }
}
